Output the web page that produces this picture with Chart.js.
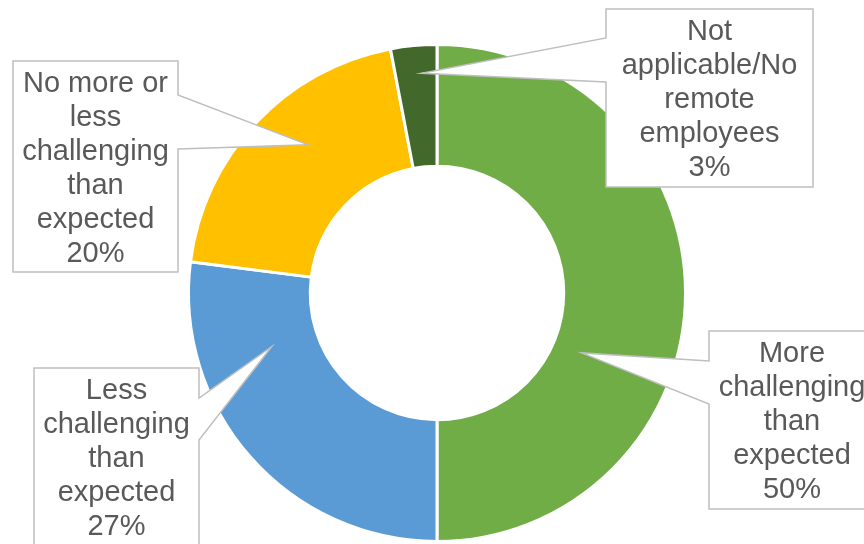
<!DOCTYPE html>
<html>
<head>
<meta charset="utf-8">
<script src="https://cdn.jsdelivr.net/npm/chart.js@4/dist/chart.umd.min.js"></script>
<style>
  html, body { margin: 0; padding: 0; background: #fff; }
  canvas { display: block; }
</style>
</head>
<body>
<canvas id="graph" width="864" height="544"></canvas>
<script>
const categories = [
    'More challenging than expected',
    'Less challenging than expected',
    'No more or less challenging than expected',
    'Not applicable/No remote employees'
];
const shares = [50, 27, 20, 3];
const sliceColors = ['#70AD47', '#5B9BD5', '#FFC000', '#43682B'];

// Callout boxes: x, y, w, h, which side the pointer leaves from,
// the pointer's base on that side, and where it points (angle clockwise from top, radius share)
const callouts = [
    { x: 709, y: 331, w: 166, h: 178, side: 'left',  y1: 361, y2: 404, angle: 112.5, r: 0.63 },
    { x: 34,  y: 368, w: 165, h: 178, side: 'right', y1: 398, y2: 440, angle: 252,   r: 0.70 },
    { x: 13,  y: 61,  w: 165, h: 211, side: 'right', y1: 95,  y2: 149, angle: 319,   r: 0.79 },
    { x: 606, y: 9,   w: 207, h: 178, side: 'left',  y1: 38,  y2: 82,  angle: 356,   r: 0.886 }
];

function wrapWords(ctx, text, maxWidth) {
    const words = text.split(' ');
    const lines = [];
    let line = '';
    words.forEach(word => {
        const test = line ? line + ' ' + word : word;
        if (line && ctx.measureText(test).width > maxWidth) {
            lines.push(line);
            line = word;
        } else {
            line = test;
        }
    });
    if (line) lines.push(line);
    return lines;
}

const calloutPlugin = {
    id: 'callouts',
    afterDraw(chart) {
        const ctx = chart.ctx;
        const arc = chart.getDatasetMeta(0).data[0];
        const cx = arc.x, cy = arc.y, outer = arc.outerRadius;

        ctx.save();
        ctx.font = '29px "Liberation Sans", Arial, sans-serif';
        callouts.forEach((c, i) => {
            const a = c.angle * Math.PI / 180;
            const tipX = cx + Math.sin(a) * outer * c.r;
            const tipY = cy - Math.cos(a) * outer * c.r;
            const right = c.x + c.w, bottom = c.y + c.h;

            ctx.beginPath();
            ctx.moveTo(c.x, c.y);
            if (c.side === 'right') {
                ctx.lineTo(right, c.y);
                ctx.lineTo(right, c.y1);
                ctx.lineTo(tipX, tipY);
                ctx.lineTo(right, c.y2);
                ctx.lineTo(right, bottom);
                ctx.lineTo(c.x, bottom);
            } else {
                ctx.lineTo(right, c.y);
                ctx.lineTo(right, bottom);
                ctx.lineTo(c.x, bottom);
                ctx.lineTo(c.x, c.y2);
                ctx.lineTo(tipX, tipY);
                ctx.lineTo(c.x, c.y1);
            }
            ctx.closePath();
            ctx.fillStyle = '#ffffff';
            ctx.fill();
            ctx.strokeStyle = '#BFBFBF';
            ctx.lineWidth = 1.5;
            ctx.stroke();

            const lines = wrapWords(ctx, categories[i], c.w - 12);
            lines.push(shares[i] + '%');
            const lineHeight = 34;
            const blockTop = c.y + (c.h - lines.length * lineHeight) / 2;
            ctx.fillStyle = '#595959';
            ctx.textAlign = 'center';
            ctx.textBaseline = 'alphabetic';
            lines.forEach((line, k) => {
                ctx.fillText(line, c.x + c.w / 2, blockTop + k * lineHeight + 27);
            });
        });
        ctx.restore();
    }
};

new Chart(document.getElementById('graph').getContext('2d'), {
    type: 'doughnut',
    data: {
        labels: categories,
        datasets: [{
            data: shares,
            backgroundColor: sliceColors,
            borderColor: '#ffffff',
            borderWidth: 3,
            hoverOffset: 0
        }]
    },
    options: {
        responsive: false,
        animation: false,
        devicePixelRatio: 1,
        cutout: '51%',
        events: [],
        layout: {
            padding: { top: 43, bottom: 1, left: 10, right: 0 }
        },
        plugins: {
            legend: { display: false },
            tooltip: { enabled: false }
        }
    },
    plugins: [calloutPlugin]
});
</script>
</body>
</html>
